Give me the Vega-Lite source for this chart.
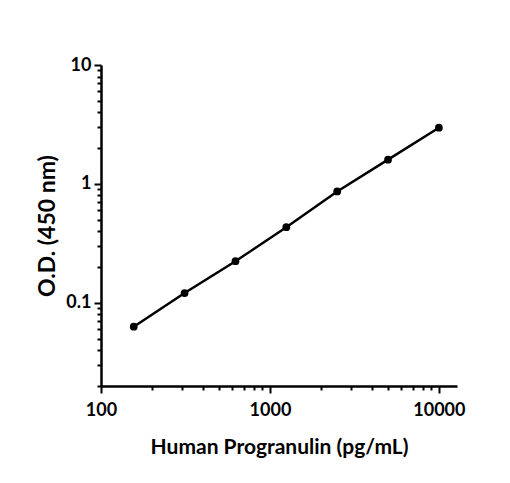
{
  "$schema": "https://vega.github.io/schema/vega-lite/v6.json",
  "width": 356,
  "height": 321,
  "padding": {"left": 36, "top": 56, "right": 10, "bottom": 10},
  "background": "white",
  "config": {
    "view": {"stroke": null},
    "font": "Lato",
    "axis": {
      "domainColor": "black",
      "domainWidth": 2.5,
      "tickColor": "black",
      "tickWidth": 2,
      "grid": false,
      "labelFont": "Lato",
      "labelFontSize": 18,
      "labelFontWeight": "bold",
      "labelColor": "black",
      "titleFont": "Lato",
      "titleFontWeight": "bold",
      "titleColor": "black"
    }
  },
  "data": {
    "values": [
      {"conc": 156.25, "od": 0.063},
      {"conc": 312.5, "od": 0.121},
      {"conc": 625, "od": 0.224},
      {"conc": 1250, "od": 0.433},
      {"conc": 2500, "od": 0.865},
      {"conc": 5000, "od": 1.6},
      {"conc": 10000, "od": 2.97}
    ]
  },
  "encoding": {
    "x": {
      "field": "conc",
      "type": "quantitative",
      "scale": {"type": "log", "domain": [100, 12800], "nice": false},
      "axis": {
        "title": "Human Progranulin (pg/mL)",
        "titleFontSize": 21,
        "values": [100, 200, 300, 400, 500, 600, 700, 800, 900, 1000, 2000, 3000, 4000, 5000, 6000, 7000, 8000, 9000, 10000],
        "labelExpr": "abs(log(datum.value)/LN10 - round(log(datum.value)/LN10)) < 0.001 ? datum.value + '' : ''",
        "tickSize": {"condition": {"test": "abs(log(datum.value)/LN10 - round(log(datum.value)/LN10)) < 0.001", "value": 7}, "value": 4},
        "labelPadding": 8,
        "titlePadding": 17,
        "labelFlush": false,
        "labelOverlap": false
      }
    },
    "y": {
      "field": "od",
      "type": "quantitative",
      "scale": {"type": "log", "domain": [0.02, 10], "nice": false},
      "axis": {
        "title": "O.D. (450 nm)",
        "titleFontSize": 23,
        "values": [0.02, 0.03, 0.04, 0.05, 0.06, 0.07, 0.08, 0.09, 0.1, 0.2, 0.3, 0.4, 0.5, 0.6, 0.7, 0.8, 0.9, 1, 2, 3, 4, 5, 6, 7, 8, 9, 10],
        "labelExpr": "abs(log(datum.value)/LN10 - round(log(datum.value)/LN10)) < 0.001 ? datum.value + '' : ''",
        "tickSize": {"condition": {"test": "abs(log(datum.value)/LN10 - round(log(datum.value)/LN10)) < 0.001", "value": 7}, "value": 4},
        "labelPadding": 3,
        "titlePadding": 6,
        "labelFlush": false,
        "labelOverlap": false
      }
    }
  },
  "layer": [
    {"mark": {"type": "line", "color": "black", "strokeWidth": 2.5}},
    {"mark": {"type": "point", "filled": true, "color": "black", "size": 60, "opacity": 1}}
  ]
}
